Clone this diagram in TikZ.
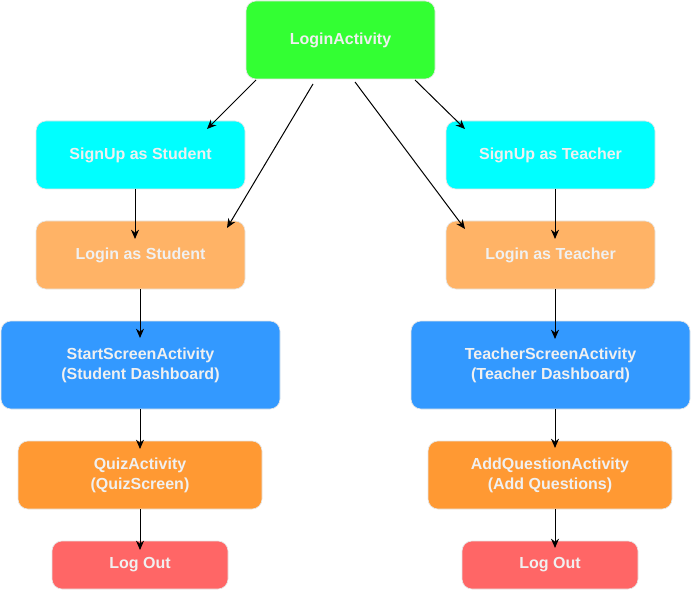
\documentclass[tikz,border=0pt]{standalone}
\usepackage{fontspec}
\setmainfont{Liberation Sans}
\usetikzlibrary{arrows.meta,calc}
\definecolor{cgreen}{HTML}{33FF33}
\definecolor{ccyan}{HTML}{00FFFF}
\definecolor{clorange}{HTML}{FFB366}
\definecolor{cblue}{HTML}{3399FF}
\definecolor{corange}{HTML}{FF9933}
\definecolor{cred}{HTML}{FF6666}
\definecolor{ctext}{HTML}{F0F0F0}
\definecolor{cborder}{HTML}{E6E6E6}
\begin{document}
\begin{tikzpicture}[x=0.75pt,y=-0.75pt,
  box/.style={draw=cborder,line width=0.5pt,rounded corners=7.5pt,inner sep=0pt,outer sep=0pt,
    align=center,text=ctext,font=\fontsize{12pt}{15pt}\selectfont\bfseries},
  arr/.style={-{Stealth[length=7pt,width=6pt]},line width=0.75pt,black}]
\useasboundingbox (0,0) rectangle (691,591);
\node[box,fill=cgreen,minimum width=141.75pt,minimum height=58.5pt] (login) at (340.5,40) {LoginActivity};
\node[box,fill=ccyan,minimum width=156.75pt,minimum height=51pt] (sus) at (140.5,155) {SignUp as Student};
\node[box,fill=ccyan,minimum width=156.75pt,minimum height=51pt] (sut) at (550.5,155) {SignUp as Teacher};
\node[box,fill=clorange,minimum width=156.75pt,minimum height=51pt] (ls) at (140.5,255) {Login as Student};
\node[box,fill=clorange,minimum width=156.75pt,minimum height=51pt] (lt) at (550.5,255) {Login as Teacher};
\node[box,fill=cblue,minimum width=209.25pt,minimum height=66pt] (ss) at (140.5,365) {StartScreenActivity\\(Student Dashboard)};
\node[box,fill=cblue,minimum width=209.25pt,minimum height=66pt] (ts) at (550.5,365) {TeacherScreenActivity\\(Teacher Dashboard)};
\node[box,fill=corange,minimum width=183pt,minimum height=51pt] (qa) at (140,475) {QuizActivity\\(QuizScreen)};
\node[box,fill=corange,minimum width=183pt,minimum height=51pt] (aq) at (550,475) {AddQuestionActivity\\(Add Questions)};
\node[box,fill=cred,minimum width=132pt,minimum height=36pt] (lo1) at (140,565) {Log Out};
\node[box,fill=cred,minimum width=132pt,minimum height=36pt] (lo2) at (550,565) {Log Out};
% from LoginActivity
\draw[arr] ($(login.south)+(-84.5,1)$) -- ($(sus.north)+(66.5,8)$);
\draw[arr] ($(login.south)+(-27.5,5)$) -- ($(ls.north)+(86.5,7)$);
\draw[arr] ($(login.south)+(14.5,3)$) -- ($(lt.north)+(-85.5,8)$);
\draw[arr] ($(login.south)+(74.5,1)$) -- ($(sut.north)+(-85.5,8)$);
% left column
\draw[arr] ($(sus.south)+(-5.5,0)$) -- ($(ls.north)+(-5.5,18)$);
\draw[arr] ($(ls.south)+(-0.5,0)$) -- ($(ss.north)+(-0.5,17)$);
\draw[arr] ($(ss.south)+(-0.5,0)$) -- ($(qa.north)+(0,8)$);
\draw[arr] (qa.south) -- ($(lo1.north)+(0,9)$);
% right column
\draw[arr] ($(sut.south)+(4.5,0)$) -- ($(lt.north)+(4.5,18)$);
\draw[arr] ($(lt.south)+(4.5,0)$) -- ($(ts.north)+(4.5,18)$);
\draw[arr] ($(ts.south)+(4.5,0)$) -- ($(aq.north)+(5,7)$);
\draw[arr] ($(aq.south)+(5,0)$) -- ($(lo2.north)+(5,7)$);
\end{tikzpicture}
\end{document}
